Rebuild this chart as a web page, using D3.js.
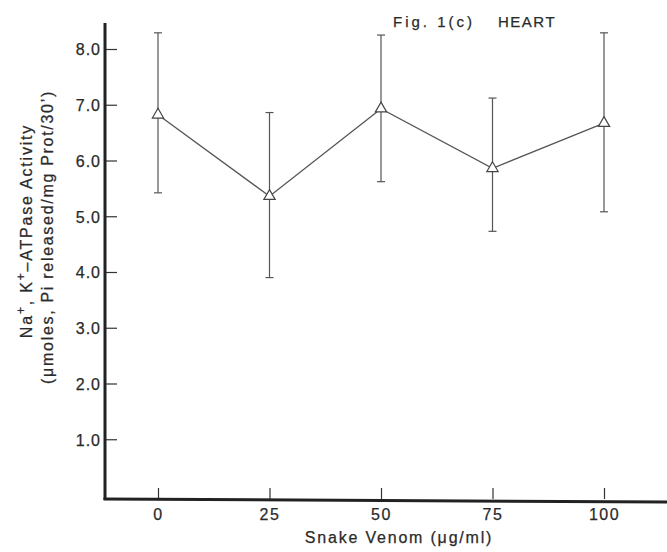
<!DOCTYPE html>
<html>
<head>
<meta charset="utf-8">
<script src="https://cdn.jsdelivr.net/npm/d3@7"></script>
<style>
  body { margin: 0; background: #fff; }
  text { font-family: "Liberation Sans", Arial, sans-serif; fill: #2a2a2a; stroke: #2a2a2a; stroke-width: 0.25px; }
</style>
</head>
<body>
<div id="viz"></div>
<script>
//-------Data---------------------------------
var doses = [0, 25, 50, 75, 100];
var activity = [6.82, 5.36, 6.93, 5.86, 6.67];
var errUpper = [8.29, 6.86, 8.25, 7.12, 8.29];
var errLower = [5.42, 3.90, 5.62, 4.73, 5.08];
var yTicks = [1, 2, 3, 4, 5, 6, 7, 8];
var xTicks = [0, 25, 50, 75, 100];

//---------------------------------
var width = 667,
    height = 552;

var svg = d3.select("#viz")
  .append("svg")
    .attr("width", width)
    .attr("height", height);

//------Scales-----------
var xScale = d3.scaleLinear()
    .domain([0, 100])
    .range([158, 604]);

var yScale = d3.scaleLinear()
    .domain([0, 8])
    .range([495, 49]);

var axisX = 105,
    axisY = 499;

//------Axes-----------
var yAxis = d3.axisRight(yScale)
    .tickValues(yTicks)
    .tickSize(12)
    .tickFormat(d3.format(".1f"));

var gY = svg.append("g")
    .attr("transform", "translate(" + axisX + ",0)")
    .call(yAxis);
gY.select(".domain").remove();
gY.selectAll(".tick line").attr("stroke", "#333").attr("stroke-width", 1.2);
gY.selectAll(".tick text")
    .attr("x", -4)
    .attr("dy", "0.36em")
    .attr("text-anchor", "end")
    .style("font-size", "16px")
    .style("letter-spacing", "1px")
    .style("fill", "#2a2a2a");

var xAxis = d3.axisTop(xScale)
    .tickValues(xTicks)
    .tickSize(11)
    .tickFormat(d3.format("d"));

var gX = svg.append("g")
    .attr("transform", "translate(0," + axisY + ")")
    .call(xAxis);
gX.select(".domain").remove();
gX.selectAll(".tick line").attr("stroke", "#333").attr("stroke-width", 1.2);
gX.selectAll(".tick text")
    .attr("y", 21)
    .attr("dy", 0)
    .attr("text-anchor", "middle")
    .style("font-size", "16px")
    .style("letter-spacing", "1.5px")
    .style("fill", "#2a2a2a");

// axis lines drawn thick like the original
svg.append("line")
    .attr("x1", axisX).attr("x2", axisX)
    .attr("y1", 23).attr("y2", axisY + 1)
    .attr("stroke", "#222").attr("stroke-width", 3);

svg.append("line")
    .attr("x1", axisX - 1.5).attr("x2", width)
    .attr("y1", axisY).attr("y2", axisY + 3)
    .attr("stroke", "#222").attr("stroke-width", 3);

//------Error bars-----------
var bars = svg.append("g").attr("id", "errorbars");
doses.forEach(function(d, i) {
    var cx = xScale(d);
    bars.append("line")
        .attr("x1", cx).attr("x2", cx)
        .attr("y1", yScale(errUpper[i])).attr("y2", yScale(errLower[i]))
        .attr("stroke", "#555").attr("stroke-width", 1.2);
    [errUpper[i], errLower[i]].forEach(function(v) {
        bars.append("line")
            .attr("x1", cx - 4).attr("x2", cx + 4)
            .attr("y1", yScale(v)).attr("y2", yScale(v))
            .attr("stroke", "#555").attr("stroke-width", 1.2);
    });
});

//------Line + markers-----------
var line = d3.line()
    .x(function(d, i) { return xScale(d); })
    .y(function(d, i) { return yScale(activity[i]); });

svg.append("path")
    .datum(doses)
    .attr("d", line)
    .attr("fill", "none")
    .attr("stroke", "#555")
    .attr("stroke-width", 1.3);

svg.append("g")
    .selectAll("path")
    .data(doses)
    .enter()
    .append("path")
    .attr("d", d3.symbol().type(d3.symbolTriangle).size(55))
    .attr("transform", function(d, i) {
        return "translate(" + xScale(d) + "," + yScale(activity[i]) + ")";
    })
    .attr("fill", "#fff")
    .attr("stroke", "#444")
    .attr("stroke-width", 1.2);

//------Labels-----------
svg.append("text")
    .attr("x", 393)
    .attr("y", 27)
    .style("font-size", "15px")
    .style("letter-spacing", "3px")
    .text("Fig. 1(c)");

svg.append("text")
    .attr("x", 498)
    .attr("y", 27)
    .style("font-size", "15px")
    .style("letter-spacing", "1.5px")
    .text("HEART");

svg.append("text")
    .attr("x", 399)
    .attr("y", 543)
    .attr("text-anchor", "middle")
    .style("font-size", "16px")
    .style("letter-spacing", "1.8px")
    .text("Snake Venom (\u03bcg/ml)");

var yl1 = svg.append("text")
    .attr("transform", "translate(32,231) rotate(-90)")
    .attr("text-anchor", "middle")
    .style("font-size", "16px")
    .style("letter-spacing", "1.8px");
yl1.append("tspan").text("Na");
yl1.append("tspan").attr("dy", -7).style("font-size", "12px").text("+");
yl1.append("tspan").attr("dy", 7).text(", K");
yl1.append("tspan").attr("dy", -7).style("font-size", "12px").text("+");
yl1.append("tspan").attr("dy", 7).text("\u2013ATPase  Activity");

svg.append("text")
    .attr("transform", "translate(53,237) rotate(-90)")
    .attr("text-anchor", "middle")
    .style("font-size", "16px")
    .style("letter-spacing", "1.7px")
    .text("(\u03bcmoles, Pi released/mg Prot/30\u2019)");
</script>
</body>
</html>
